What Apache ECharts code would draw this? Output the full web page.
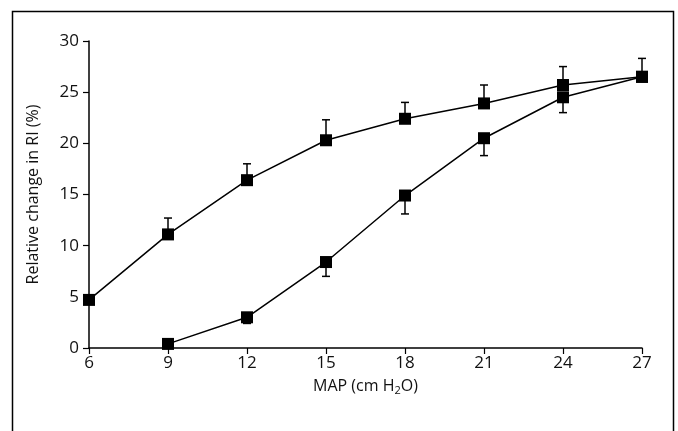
<!DOCTYPE html>
<html>
<head>
<meta charset="utf-8">
<script src="https://cdn.jsdelivr.net/npm/echarts@6/dist/echarts.min.js"></script>
<style>
  html, body { margin: 0; padding: 0; background: #fff; }
  #main { width: 678px; height: 431px; }
</style>
</head>
<body>
<div id="main"></div>
<script>
// MAP values (cm H2O)
var mapUp = [6, 9, 12, 15, 18, 21, 24, 27];
var riUp = [4.7, 11.1, 16.4, 20.3, 22.4, 23.9, 25.7, 26.5];
var errUp = [5.1, 12.7, 18.0, 22.3, 24.0, 25.7, 27.5, 28.3];   // top of error bar

var mapDown = [9, 12, 15, 18, 21, 24, 27];
var riDown = [0.4, 3.0, 8.4, 14.9, 20.5, 24.5, 26.5];
var errDown = [0.4, 2.4, 7.0, 13.1, 18.8, 23.0, 26.5];          // bottom of error bar

var xTicks = [6, 9, 12, 15, 18, 21, 24, 27];
var yTicks = [0, 5, 10, 15, 20, 25, 30];

function pairs(xs, ys) {
  var out = [];
  for (var i = 0; i < xs.length; i++) out.push([xs[i], ys[i]]);
  return out;
}
function errPairs(xs, ys, es) {
  var out = [];
  for (var i = 0; i < xs.length; i++) out.push([xs[i], ys[i], es[i]]);
  return out;
}

var myChart = echarts.init(document.getElementById("main"));

function errRender(params, api) {
  var p0 = api.coord([api.value(0), api.value(1)]);
  var p1 = api.coord([api.value(0), api.value(2)]);
  var w = 4;
  return {
    type: "group",
    children: [
      { type: "line", shape: { x1: p0[0], y1: p0[1], x2: p1[0], y2: p1[1] },
        style: { stroke: "#000", lineWidth: 1.5 } },
      { type: "line", shape: { x1: p1[0] - w, y1: p1[1], x2: p1[0] + w, y2: p1[1] },
        style: { stroke: "#000", lineWidth: 1.5 } }
    ]
  };
}

var font = "Open Sans";

myChart.setOption({
  animation: false,
  grid: { left: 89, right: 36, top: 41, bottom: 83 },
  graphic: [{
    type: "polyline",
    shape: { points: [[12.5, 431], [12.5, 11.5], [673.5, 11.5], [673.5, 431]] },
    style: { stroke: "#000", lineWidth: 1.5, fill: null }
  }],
  xAxis: {
    type: "value",
    min: 6, max: 27, interval: 3,
    name: "{a|MAP (cm H}{s|2}{a|O)}",
    nameLocation: "middle",
    nameGap: 29,
    nameTextStyle: {
      rich: {
        a: { fontFamily: font, fontSize: 16, color: "#111" },
        s: { fontFamily: font, fontSize: 11, color: "#111", verticalAlign: "bottom", padding: [8, 0, 0, 0] }
      }
    },
    axisLine: { lineStyle: { color: "#000", width: 1.5 } },
    axisTick: { length: 6, lineStyle: { color: "#000", width: 1.2 } },
    axisLabel: { fontFamily: font, fontSize: 17, color: "#111", margin: 7,
      formatter: function (v) { return xTicks.indexOf(v) >= 0 ? v : ""; } },
    splitLine: { show: false }
  },
  yAxis: {
    type: "value",
    min: 0, max: 30, interval: 5,
    name: "Relative change in RI (%)",
    nameLocation: "middle",
    nameGap: 48,
    nameTextStyle: { fontFamily: font, fontSize: 16, color: "#111" },
    axisLine: { show: true, lineStyle: { color: "#000", width: 1.5 } },
    axisTick: { show: true, length: 6, lineStyle: { color: "#000", width: 1.2 } },
    axisLabel: { fontFamily: font, fontSize: 17, color: "#111", margin: 10,
      formatter: function (v) { return yTicks.indexOf(v) >= 0 ? v : ""; } },
    splitLine: { show: false }
  },
  series: [
    {
      type: "custom",
      renderItem: errRender,
      data: errPairs(mapUp, riUp, errUp),
      z: 1
    },
    {
      type: "custom",
      renderItem: errRender,
      data: errPairs(mapDown, riDown, errDown),
      z: 1
    },
    {
      type: "line",
      data: pairs(mapUp, riUp),
      symbol: "rect",
      symbolSize: 12,
      itemStyle: { color: "#000" },
      lineStyle: { color: "#000", width: 1.5 },
      z: 3
    },
    {
      type: "line",
      data: pairs(mapDown, riDown),
      symbol: "rect",
      symbolSize: 12,
      itemStyle: { color: "#000" },
      lineStyle: { color: "#000", width: 1.5 },
      z: 3
    }
  ]
});
</script>
</body>
</html>
